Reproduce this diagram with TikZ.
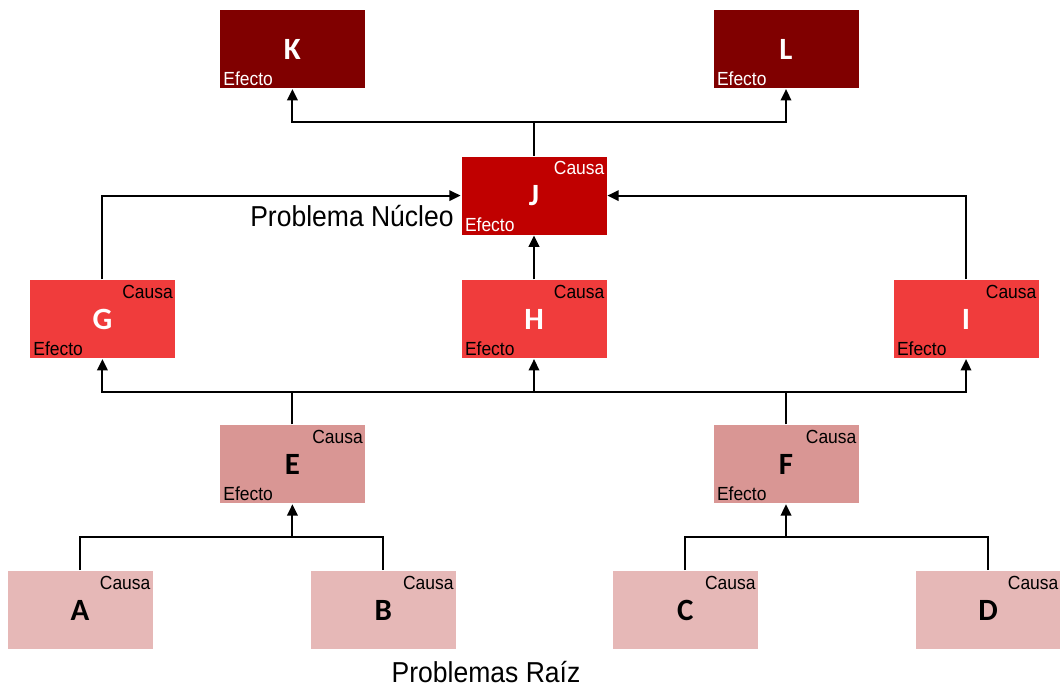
\documentclass[tikz,border=0pt]{standalone}
\usepackage{fontspec}
\setmainfont{Liberation Sans}[FakeStretch=0.92]
\newfontfamily\letterfont{Carlito}
\usepackage{tikz}
\usetikzlibrary{arrows.meta,positioning}
\definecolor{efectodark}{HTML}{800000}
\definecolor{nucleo}{HTML}{C00000}
\definecolor{causamid}{HTML}{F03C3C}
\definecolor{causalow}{HTML}{D99694}
\definecolor{raiz}{HTML}{E6B8B7}

\begin{document}
\begin{tikzpicture}[>={Triangle[length=8pt,width=7.5pt]}, line width=1.3pt]
  \tikzstyle{problem}=[rectangle, minimum width=3.625cm, minimum height=1.95cm, inner sep=0pt,
    font=\letterfont\bfseries\fontsize{22}{26}\selectfont]
  \tikzstyle{causa}=[anchor=north east, inner xsep=1.5pt, inner ysep=3.5pt, font=\fontsize{13.5}{15}\selectfont]
  \tikzstyle{efecto}=[anchor=south west, inner xsep=2.5pt, inner ysep=2pt, font=\fontsize{13.5}{15}\selectfont]
  \tikzstyle{caption}=[font=\fontsize{20.5}{24}\selectfont, inner sep=0pt]
  \useasboundingbox (0,0) rectangle (26.5,-17.25);

  % effects
  \node[problem, fill=efectodark, text=white] (K) at (7.31,-1.23) {K};
  \node[efecto, text=white] at (K.south west) {Efecto};
  \node[problem, fill=efectodark, text=white] (L) at (19.65,-1.23) {L};
  \node[efecto, text=white] at (L.south west) {Efecto};

  % core problem
  \node[problem, fill=nucleo, text=white] (J) at (13.35,-4.89) {J};
  \node[causa, text=white] at (J.north east) {Causa};
  \node[efecto, text=white] at (J.south west) {Efecto};
  \node[caption, anchor=base east] (nucleo) at ([xshift=-0.15cm,yshift=0.23cm]J.south west) {Problema Núcleo};

  % direct causes
  \node[problem, fill=causamid, text=white] (G) at (2.56,-7.98) {G};
  \node[causa] at (G.north east) {Causa};
  \node[efecto] at (G.south west) {Efecto};
  \node[problem, fill=causamid, text=white] (H) at (13.35,-7.98) {H};
  \node[causa] at (H.north east) {Causa};
  \node[efecto] at (H.south west) {Efecto};
  \node[problem, fill=causamid, text=white] (I) at (24.15,-7.98) {I};
  \node[causa] at (I.north east) {Causa};
  \node[efecto] at (I.south west) {Efecto};

  % indirect causes
  \node[problem, fill=causalow] (E) at (7.31,-11.61) {E};
  \node[causa] at (E.north east) {Causa};
  \node[efecto] at (E.south west) {Efecto};
  \node[problem, fill=causalow] (F) at (19.65,-11.61) {F};
  \node[causa] at (F.north east) {Causa};
  \node[efecto] at (F.south west) {Efecto};

  % root problems
  \node[problem, fill=raiz] (A) at (2.0,-15.25) {A};
  \node[causa] at (A.north east) {Causa};
  \node[problem, fill=raiz] (B) at (9.58,-15.25) {B};
  \node[causa] at (B.north east) {Causa};
  \node[problem, fill=raiz] (C) at (17.13,-15.25) {C};
  \node[causa] at (C.north east) {Causa};
  \node[problem, fill=raiz] (D) at (24.7,-15.25) {D};
  \node[causa] at (D.north east) {Causa};
  \node[caption, anchor=base] (raiz) at (12.15,-17.05) {Problemas Raíz};

  % junctions
  \coordinate (jtop) at (J.north |- 0,-3.05);
  \coordinate (emid) at (E.north |- 0,-9.8);
  \coordinate (fmid) at (F.north |- 0,-9.8);
  \coordinate (ebot) at (E.south |- 0,-13.43);
  \coordinate (fbot) at (F.south |- 0,-13.43);

  % J -> K, L
  \draw (J.north) -- (jtop);
  \draw[->] (jtop) -| (K.south);
  \draw[->] (jtop) -| (L.south);
  % G, H, I -> J
  \draw[->] (G.north) |- (J.west);
  \draw[->] (I.north) |- (J.east);
  \draw[->] (H.north) -- (J.south);
  % E, F -> G, H, I
  \draw (E.north) -- (emid);
  \draw (F.north) -- (fmid);
  \draw[->] (emid) -| (G.south);
  \draw[->] (fmid) -| (I.south);
  \draw (emid) -- (fmid);
  \draw[->] (H.south |- emid) -- (H.south);
  % A, B -> E and C, D -> F
  \draw (A.north) |- (ebot);
  \draw (B.north) |- (ebot);
  \draw[->] (ebot) -- (E.south);
  \draw (C.north) |- (fbot);
  \draw (D.north) |- (fbot);
  \draw[->] (fbot) -- (F.south);
\end{tikzpicture}
\end{document}
